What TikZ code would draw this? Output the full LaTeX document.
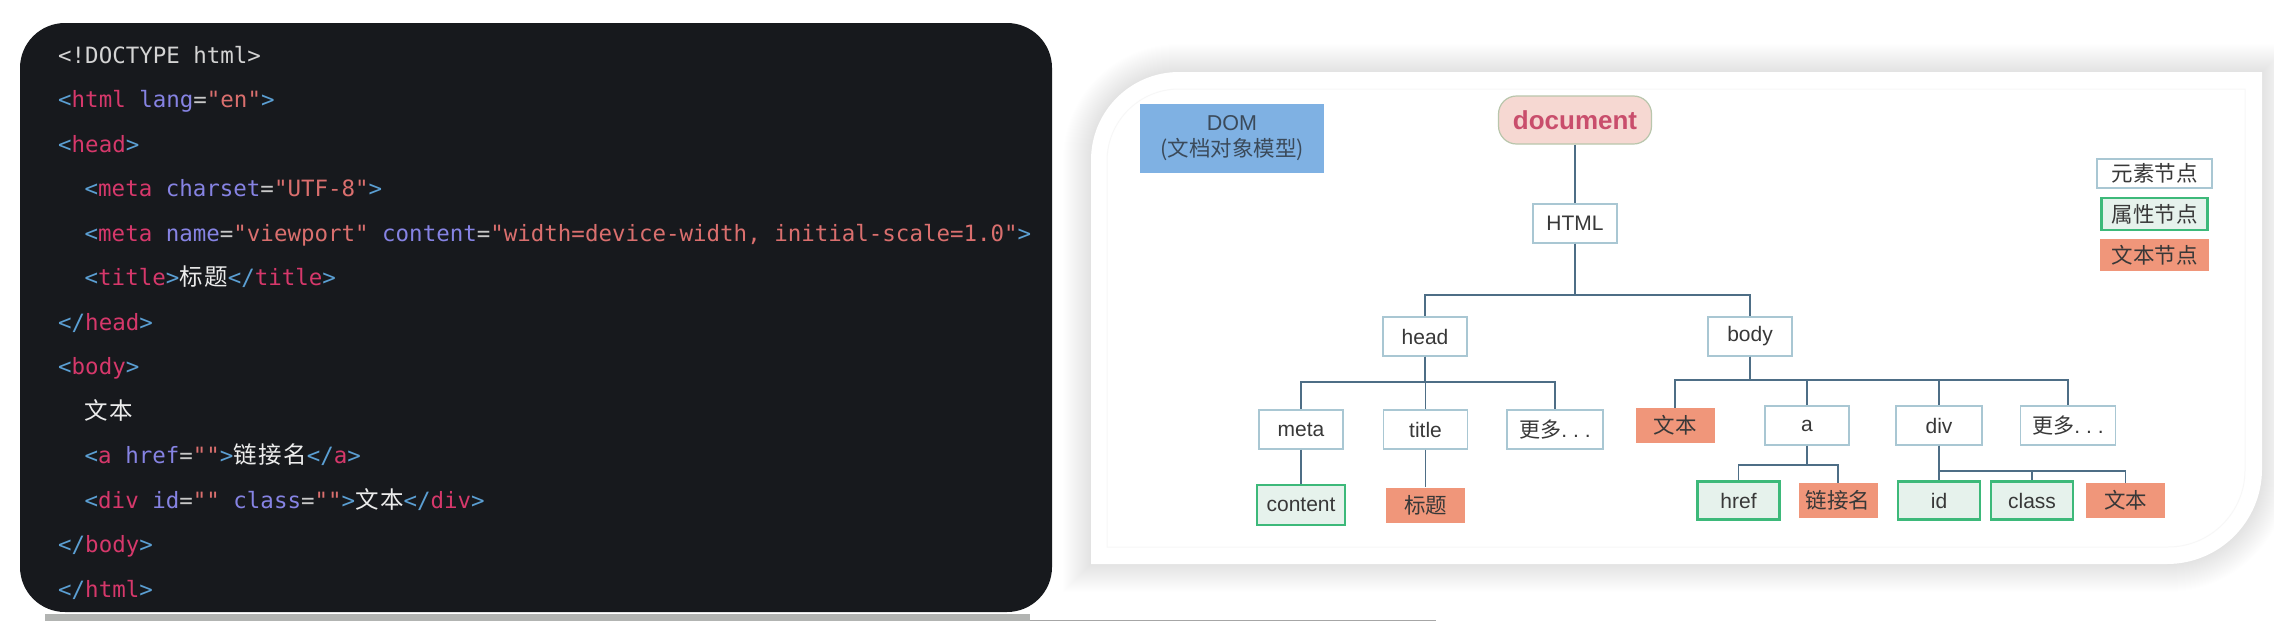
\documentclass[tikz,border=0pt]{standalone}
\usepackage{fontspec}
\setmainfont{Liberation Sans}
\setmonofont{DejaVu Sans Mono}
\newfontfamily\cjk{Noto Sans CJK SC}
\newfontfamily\cjkcode[LetterSpace=6]{Noto Sans CJK SC}
\usetikzlibrary{positioning}

\definecolor{codebg}{HTML}{17191D}
\definecolor{cplain}{HTML}{D4D4D4}
\definecolor{cpunct}{HTML}{5B9FD3}
\definecolor{ctag}{HTML}{D6386B}
\definecolor{cattr}{HTML}{8683E3}
\definecolor{cval}{HTML}{DA6F6E}
\definecolor{ceq}{HTML}{C8C8C8}
\definecolor{ctext}{HTML}{ECECEC}
\definecolor{linkcol}{HTML}{4E6E86}
\definecolor{elemline}{HTML}{A9C7D3}
\definecolor{attrline}{HTML}{3DB97A}
\definecolor{attrfill}{HTML}{E6F2EC}
\definecolor{textfill}{HTML}{F0967A}
\definecolor{domfill}{HTML}{7FB1E3}
\definecolor{domtext}{HTML}{3B4A5A}
\definecolor{docfill}{HTML}{F6D8D2}
\definecolor{docline}{HTML}{B9C6AC}
\definecolor{doctext}{HTML}{C94E6C}
\definecolor{treetext}{HTML}{383838}
\definecolor{stripgray}{HTML}{B2B4B2}

% syntax colouring of the html source
\newcommand\opentag[1]{\textcolor{cpunct}{<}\textcolor{ctag}{#1}}
\newcommand\closetag[1]{\textcolor{cpunct}{</}\textcolor{ctag}{#1}\textcolor{cpunct}{>}}
\newcommand\tagclose{\textcolor{cpunct}{>}}
\newcommand\htmlattr[1]{\textcolor{cattr}{#1}}
\newcommand\htmlval[1]{\textcolor{cval}{#1}}
\newcommand\eqsign{\textcolor{ceq}{=}}
\newcommand\zhcode[1]{{\cjkcode\fontsize{23.5pt}{26pt}\selectfont\textcolor{ctext}{#1}}}

\frenchspacing
\begin{document}
\begin{tikzpicture}[x=1pt, y=-1pt,
  font=\fontsize{21pt}{25pt}\selectfont,
  codeline/.style={anchor=base west, inner sep=0pt, text=cplain, font=\ttfamily\fontsize{22.46pt}{26pt}\selectfont},
  elem/.style={draw=elemline, fill=white, line width=1.3pt, minimum width=84pt, minimum height=39pt, inner sep=0pt, text=treetext},
  attr/.style={draw=attrline, fill=attrfill, line width=2.6pt, minimum width=82pt, minimum height=38pt, inner sep=0pt, text=treetext},
  textnode/.style={fill=textfill, minimum width=79pt, minimum height=35pt, inner sep=0pt, text=treetext, font=\cjk\fontsize{21.5pt}{25pt}\selectfont},
  link/.style={draw=linkcol, line width=1.8pt}
]
\useasboundingbox (0,0) rectangle (2274,621);
\fill[white] (0,0) rectangle (2274,621);

% code panel
\fill[codebg, rounded corners=45pt] (20,23) rectangle (1052,612);
\fill[stripgray] (45,614) rectangle (1030,621);
\draw[black!35, line width=1pt] (1030,620) -- (1436,620);

\node[codeline] (l1) at (58,63) {<!DOCTYPE html>};
\node[codeline] (l2) at (58,107.5) {\opentag{html} \htmlattr{lang}\eqsign\htmlval{"en"}\tagclose};
\node[codeline] (l3) at (58,152) {\opentag{head}\tagclose};
\node[codeline] (l4) at (84.5,196.5) {\opentag{meta} \htmlattr{charset}\eqsign\htmlval{"UTF-8"}\tagclose};
\node[codeline] (l5) at (84.5,241) {\opentag{meta} \htmlattr{name}\eqsign\htmlval{"viewport"} \htmlattr{content}\eqsign\htmlval{"width=device-width, initial-scale=1.0"}\tagclose};
\node[codeline] (l6) at (84.5,285.5) {\opentag{title}\tagclose\zhcode{标题}\closetag{title}};
\node[codeline] (l7) at (58,330) {\closetag{head}};
\node[codeline] (l8) at (58,374.5) {\opentag{body}\tagclose};
\node[codeline] (l9) at (84.5,419) {\zhcode{文本}};
\node[codeline] (l10) at (84.5,463.5) {\opentag{a} \htmlattr{href}\eqsign\htmlval{""}\tagclose\zhcode{链接名}\closetag{a}};
\node[codeline] (l11) at (84.5,508) {\opentag{div} \htmlattr{id}\eqsign\htmlval{""} \htmlattr{class}\eqsign\htmlval{""}\tagclose\zhcode{文本}\closetag{div}};
\node[codeline] (l12) at (58,552.5) {\closetag{body}};
\node[codeline] (l13) at (58,597) {\closetag{html}};

% tree panel with soft shadow
\foreach \e in {1,...,28}
  \fill[black, opacity=.0055] (1091-\e,564+\e) -- (1091-\e,160) arc[start angle=180, end angle=270, radius=88+\e]
    -- (2262+\e,72-\e) -- (2262+\e,469) arc[start angle=0, end angle=90, radius=95+\e] -- cycle;
\fill[white] (1091,564) -- (1091,160) arc[start angle=180, end angle=270, radius=88]
  -- (2262,72) -- (2262,469) arc[start angle=0, end angle=90, radius=95] -- cycle;
\draw[black!3, line width=1pt] (1107,547) -- (1107,161) arc[start angle=180, end angle=270, radius=72]
  -- (2245,89) -- (2245,470) arc[start angle=0, end angle=90, radius=77] -- cycle;

\node[fill=domfill, minimum width=184pt, minimum height=69pt, align=center, text=domtext,
  font=\fontsize{21.5pt}{26pt}\selectfont] (dom) at (1232,138.5) {DOM\\{\cjk (文档对象模型)}};
\node[draw=docline, fill=docfill, rounded corners=18pt, line width=1.2pt, minimum width=153pt, minimum height=48pt,
  inner sep=0pt, text=doctext, font=\bfseries\fontsize{26pt}{30pt}\selectfont] (doc) at (1575,120) {document};

\node[elem] (html) at (1575,223.5) {HTML};
\node[elem] (head) at (1425,336.5) {head};
\node[elem] (body) at (1750,336.5) {body};
\node[elem] (meta) at (1301,429.5) {meta};
\node[elem] (title) at (1425.5,429.5) {title};
\node[elem, minimum width=96pt] (headmore) at (1555,429.5) {{\cjk 更多}.\hspace{6pt}.\hspace{6pt}.};
\node[textnode] (bodytext) at (1675,425.5) {文本};
\node[elem] (a) at (1807,425.5) {a};
\node[elem, minimum width=86pt] (div) at (1939,425.5) {div};
\node[elem, minimum width=95pt] (bodymore) at (2068,425.5) {{\cjk 更多}.\hspace{6pt}.\hspace{6pt}.};
\node[attr, minimum width=88pt, minimum height=40pt] (content) at (1301,505) {content};
\node[textnode] (titletext) at (1425.5,505) {标题};
\node[attr] (href) at (1738.5,500.5) {href};
\node[textnode] (linkname) at (1838,500.5) {链接名};
\node[attr] (id) at (1939,500.5) {id};
\node[attr] (class) at (2032,500.5) {class};
\node[textnode] (divtext) at (2125.5,500.5) {文本};

% legend
\node[elem, minimum width=115pt, minimum height=29pt, font=\cjk\fontsize{21.5pt}{25pt}\selectfont] (legelem) at (2154.5,173.5) {元素节点};
\node[attr, minimum width=106pt, minimum height=32pt, font=\cjk\fontsize{21.5pt}{25pt}\selectfont, below=8pt of legelem] (legattr) {属性节点};
\node[textnode, minimum width=109pt, minimum height=32pt, below=8pt of legattr] (legtext) {文本节点};

% connectors
\draw[link] (doc) -- (html);
\foreach \kid in {head,body} \draw[link] (html.south) -- ++(0,51) -| (\kid.north);
\foreach \kid in {meta,title,headmore} \draw[link] (head.south) -- ++(0,25) -| (\kid.north);
\foreach \kid in {bodytext,a,div,bodymore} \draw[link] (body.south) -- ++(0,23) -| (\kid.north);
\draw[link] (meta) -- (content);
\draw[link] (title) -- (titletext);
\foreach \kid in {href,linkname} \draw[link] (a.south) -- ++(0,19) -| (\kid.north);
\foreach \kid in {id,class,divtext} \draw[link] (div.south) -- ++(0,25) -| (\kid.north);
\end{tikzpicture}
\end{document}
